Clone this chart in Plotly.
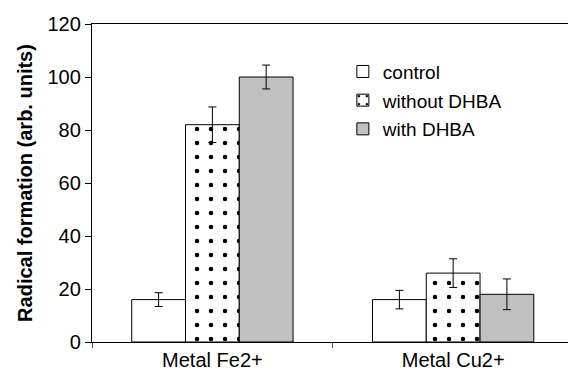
import plotly.graph_objects as go

# Radical formation for the two metal ions, three conditions each
metals = ["Metal Fe2+", "Metal Cu2+"]
series_names = ["control", "without DHBA", "with DHBA"]
control_vals = [16, 16]
control_err = [2.6, 3.5]
without_vals = [82, 26]
without_err = [6.7, 5.4]
with_vals = [100, 18]
with_err = [4.5, 5.8]
y_ticks = [0, 20, 40, 60, 80, 100, 120]

FONT = "Liberation Sans, Arial, Helvetica, sans-serif"
FS = 20

styles = [
    dict(color="white", pattern=None),
    dict(color="white", pattern=dict(shape=".", fgcolor="black", bgcolor="white",
                                     fgopacity=1, size=14, solidity=0.08,
                                     fillmode="replace")),
    dict(color="#c0c0c0", pattern=None),
]

fig = go.Figure()
for name, vals, errs, st in zip(series_names,
                                [control_vals, without_vals, with_vals],
                                [control_err, without_err, with_err],
                                styles):
    marker = dict(color=st["color"], line=dict(color="black", width=1))
    if st["pattern"]:
        marker["pattern"] = st["pattern"]
    fig.add_trace(go.Bar(
        x=metals, y=vals, name=name, legendgroup=name,
        marker=marker,
        error_y=dict(type="data", array=errs, color="black", thickness=1, width=4),
    ))

fig.update_layout(
    width=568, height=374,
    margin=dict(l=92, r=0, t=24, b=32),
    paper_bgcolor="white", plot_bgcolor="white",
    barmode="group", bargap=0.33, bargroupgap=0,
    font=dict(family=FONT, size=FS, color="black"),
    showlegend=True,
    legend=dict(x=0.527, y=0.91, xanchor="left", yanchor="top",
                bgcolor="rgba(0,0,0,0)", traceorder="grouped",
                tracegroupgap=1, font=dict(size=FS - 1, family=FONT)),
)
fig.update_xaxes(
    range=[-0.5, 1.477], showline=True, linecolor="black", linewidth=1.3,
    mirror=True, ticks="outside", tickson="boundaries", ticklen=5,
    tickcolor="#555", showgrid=False, tickfont=dict(size=FS, family=FONT),
)
fig.update_yaxes(
    range=[0, 120], tickvals=y_ticks, showline=True, linecolor="black",
    linewidth=1.3, ticks="outside", ticklen=6, tickcolor="black",
    showgrid=False, zeroline=False, tickfont=dict(size=FS, family=FONT),
    title=dict(text="<b>Radical formation (arb. units)</b>",
               font=dict(size=FS, family=FONT), standoff=9),
)

fig.write_html("out.html")
